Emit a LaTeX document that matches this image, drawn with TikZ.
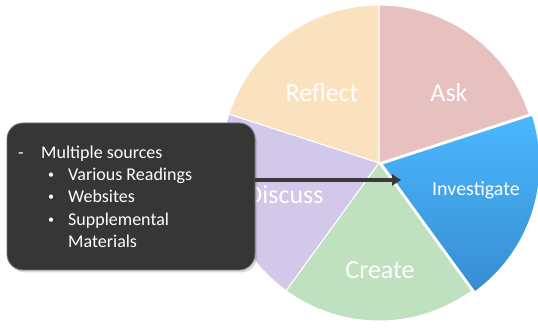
\documentclass[tikz,border=0pt]{standalone}
\usepackage{fontspec}
\setmainfont{Carlito}
\usetikzlibrary{shadows,arrows.meta}
\definecolor{reflectc}{HTML}{FBE2BF}
\definecolor{askc}{HTML}{E7C0C0}
\definecolor{invtop}{HTML}{4AB8FE}
\definecolor{invbot}{HTML}{388CD0}
\definecolor{createc}{HTML}{BFE1C0}
\definecolor{discussc}{HTML}{D2C8EA}
\definecolor{boxc}{HTML}{363636}
\definecolor{arrowc}{HTML}{3A3A3A}
\tikzset{
  slice/.style={draw=white, line width=1pt},
  slicelabel/.style={text=white, font=\fontsize{26}{30}\selectfont, inner sep=0pt},
  boxstyle/.style={rounded corners=16pt, fill=boxc, draw=black!55, line width=0.8pt,
     minimum width=248pt, minimum height=147pt, drop shadow={opacity=0.3, shadow xshift=2pt, shadow yshift=-2.5pt}},
  boxtext/.style={text=white, font=\fontsize{18}{22}\selectfont, inner sep=0pt, anchor=base west},
  bulletmark/.style={text=white, font=\fontsize{12}{14}\selectfont, inner sep=0pt, anchor=base west},
  pointer/.style={draw=arrowc, line width=4pt, -{Triangle[length=9pt,width=11pt]}}
}
\begin{document}
\begin{tikzpicture}[x=1pt,y=1pt]
\useasboundingbox (0,0) rectangle (538,329);
\coordinate (c) at (379,166);
\coordinate (ci) at (382,165);
% slices
\fill[reflectc, slice] (c) -- ++(90:158) arc[start angle=90,end angle=162,radius=158] -- cycle;
\fill[askc, slice] (c) -- ++(18:158) arc[start angle=18,end angle=90,radius=158] -- cycle;
\fill[discussc, slice] (c) -- ++(162:158) arc[start angle=162,end angle=234,radius=158] -- cycle;
\fill[createc, slice] (c) -- ++(234:158) arc[start angle=234,end angle=306,radius=158] -- cycle;
\shade[top color=invtop, bottom color=invbot, slice] (ci) -- ++(-54:158) arc[start angle=-54,end angle=18,radius=158] -- cycle;
% labels
\node[slicelabel] (reflect) at (322,236) {Reflect};
\node[slicelabel] (ask) at (449,236) {Ask};
\node[slicelabel, font=\fontsize{20}{24}\selectfont] (investigate) at (476,139) {Investigate};
\node[slicelabel] (create) at (380,59) {Create};
\node[slicelabel] (discuss) at (285,134) {Discuss};
% callout box
\node[boxstyle] (box) at (131,132.5) {};
\node[boxtext] (dash) at (18,170) {-};
\node[boxtext] (l1) at (41,170) {Multiple sources};
\node[bulletmark] (b1) at (48,150) {•};
\node[boxtext] (l2) at (68,148) {Various Readings};
\node[bulletmark] (b2) at (48,128) {•};
\node[boxtext] (l3) at (68,126) {Websites};
\node[bulletmark] (b3) at (48,105) {•};
\node[boxtext] (l4) at (68,103) {Supplemental};
\node[boxtext] (l5) at (68,81) {Materials};
% arrow
\coordinate (tip) at (401,149);
\draw[pointer] (box.east |- tip) -- (tip);
\end{tikzpicture}
\end{document}
